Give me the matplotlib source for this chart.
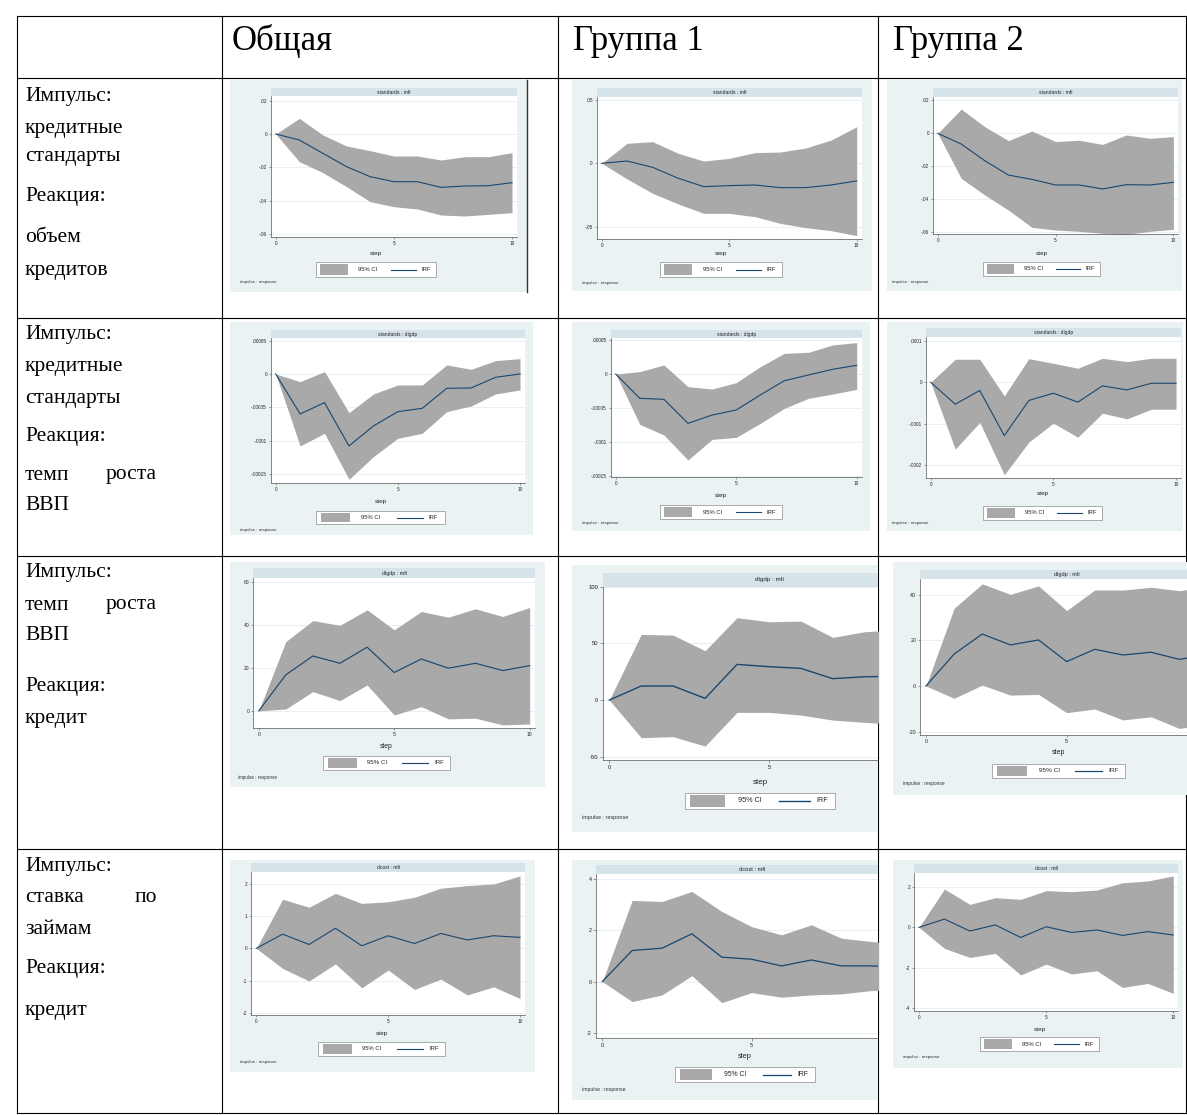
import matplotlib
matplotlib.use("Agg")
import matplotlib.pyplot as plt
from matplotlib.patches import Rectangle
from matplotlib.lines import Line2D

W, H = 1187, 1115
steps = list(range(11))

# ---- table text ----
col_titles = ["Общая", "Группа 1", "Группа 2"]
row_captions = [
    ["Импульс:", "кредитные", "стандарты", "Реакция:", "объем", "кредитов"],
    ["Импульс:", "кредитные", "стандарты", "Реакция:", "темп роста", "ВВП"],
    ["Импульс:", "темп роста", "ВВП", "Реакция:", "кредит"],
    ["Импульс:", "ставка по", "займам", "Реакция:", "кредит"],
]
panel_titles = ["standards : mfi", "standards : dlgdp", "dlgdp : mfi", "dcost : mfi"]

# ---- impulse responses (steps 0..10): IRF, lower and upper 95% bounds ----
# credit standards -> loans
irf_std_mfi_all = [0, -0.0036, -0.0116, -0.0196, -0.0256, -0.0286, -0.0286, -0.0320, -0.0312, -0.0310, -0.0292]
lo_std_mfi_all = [0, -0.0166, -0.0232, -0.0316, -0.0406, -0.0436, -0.0450, -0.0486, -0.0492, -0.0482, -0.0472]
hi_std_mfi_all = [0, 0.0094, -0.0006, -0.0072, -0.0100, -0.0132, -0.0132, -0.0156, -0.0136, -0.0136, -0.0112]

irf_std_mfi_g1 = [0, 0.0018, -0.0032, -0.0118, -0.0184, -0.0176, -0.0171, -0.0192, -0.0192, -0.0171, -0.0139]
lo_std_mfi_g1 = [0, -0.0124, -0.0237, -0.0321, -0.0395, -0.0395, -0.0421, -0.0474, -0.0508, -0.0532, -0.0571]
hi_std_mfi_g1 = [0, 0.0158, 0.0171, 0.0079, 0.0018, 0.0039, 0.0084, 0.0089, 0.0121, 0.0184, 0.0289]

irf_std_mfi_g2 = [0, -0.0065, -0.0166, -0.0253, -0.0279, -0.0313, -0.0313, -0.0337, -0.0311, -0.0313, -0.0297]
lo_std_mfi_g2 = [0, -0.0273, -0.0374, -0.0465, -0.0570, -0.0586, -0.0594, -0.0606, -0.0612, -0.0594, -0.0582]
hi_std_mfi_g2 = [0, 0.0147, 0.0040, -0.0044, 0.0014, -0.0050, -0.0042, -0.0067, -0.0010, -0.0030, -0.0020]

# credit standards -> GDP growth
irf_std_gdp_all = [0, -6.0e-5, -4.3e-5, -10.8e-5, -7.8e-5, -5.65e-5, -5.15e-5, -2.15e-5, -2.1e-5, -0.5e-5, 0.0]
lo_std_gdp_all = [0, -10.8e-5, -8.9e-5, -15.8e-5, -12.4e-5, -9.65e-5, -8.9e-5, -5.65e-5, -4.8e-5, -3.0e-5, -2.4e-5]
hi_std_gdp_all = [0, -1.15e-5, 0.35e-5, -5.8e-5, -3.0e-5, -1.65e-5, -1.65e-5, 1.35e-5, 0.7e-5, 2.0e-5, 2.3e-5]

irf_std_gdp_g1 = [0, -3.60e-5, -3.74e-5, -7.29e-5, -6.06e-5, -5.32e-5, -3.10e-5, -0.99e-5, -0.15e-5, 0.69e-5, 1.28e-5]
lo_std_gdp_g1 = [0, -7.44e-5, -9.01e-5, -12.71e-5, -9.66e-5, -9.36e-5, -7.29e-5, -5.07e-5, -3.60e-5, -2.96e-5, -2.27e-5]
hi_std_gdp_g1 = [0, 0.34e-5, 1.33e-5, -1.87e-5, -2.22e-5, -1.28e-5, 1.08e-5, 3.05e-5, 3.20e-5, 4.29e-5, 4.63e-5]

irf_std_gdp_g2 = [0, -5.3e-5, -2.0e-5, -12.9e-5, -4.4e-5, -2.65e-5, -4.8e-5, -0.88e-5, -1.85e-5, -0.24e-5, -0.24e-5]
lo_std_gdp_g2 = [0, -16.16e-5, -9.7e-5, -22.35e-5, -14.47e-5, -9.89e-5, -13.27e-5, -7.48e-5, -8.84e-5, -6.51e-5, -6.51e-5]
hi_std_gdp_g2 = [0, 5.55e-5, 5.55e-5, -3.3e-5, 5.7e-5, 4.58e-5, 3.38e-5, 5.79e-5, 4.98e-5, 5.79e-5, 5.79e-5]

# GDP growth -> credit
irf_gdp_mfi_all = [0, 16.8, 25.6, 22.2, 29.7, 17.9, 24.2, 19.9, 22.2, 18.8, 21.1]
lo_gdp_mfi_all = [0, 0.9, 9.0, 4.8, 12.1, -1.9, 2.0, -3.7, -3.4, -6.5, -6.1]
hi_gdp_mfi_all = [0, 32.3, 42.1, 39.9, 47.1, 37.8, 46.3, 43.7, 47.6, 44.0, 48.2]

irf_gdp_mfi_g1 = [0, 12.4, 12.4, 1.5, 31.5, 29.5, 28.0, 18.9, 20.6, 21.0, 21.5]
lo_gdp_mfi_g1 = [0, -33.3, -32.4, -40.7, -10.9, -10.9, -13.3, -17.7, -19.7, -21.5, -23.0]
hi_gdp_mfi_g1 = [0, 58.0, 57.4, 43.6, 72.8, 69.2, 69.8, 55.4, 60.4, 62.0, 63.0]

irf_gdp_mfi_g2 = [0, 14.0, 22.8, 18.0, 20.2, 10.7, 16.1, 13.6, 14.8, 11.7, 13.5]
lo_gdp_mfi_g2 = [0, -5.4, 0.4, -4.0, -3.7, -11.7, -10.1, -14.9, -13.5, -18.6, -17.0]
hi_gdp_mfi_g2 = [0, 34.1, 44.8, 40.2, 43.9, 33.1, 42.1, 42.1, 43.3, 41.8, 43.5]

# lending rate -> credit
irf_cost_mfi_all = [0, 0.44, 0.12, 0.62, 0.08, 0.39, 0.15, 0.46, 0.26, 0.39, 0.34]
lo_cost_mfi_all = [0, -0.62, -1.01, -0.48, -1.22, -0.67, -1.27, -0.95, -1.44, -1.19, -1.55]
hi_cost_mfi_all = [0, 1.52, 1.27, 1.70, 1.39, 1.44, 1.58, 1.86, 1.94, 1.99, 2.24]

irf_cost_mfi_g1 = [0, 1.21, 1.30, 1.86, 0.95, 0.87, 0.61, 0.84, 0.61, 0.61, 0.56]
lo_cost_mfi_g1 = [0, -0.78, -0.52, 0.23, -0.82, -0.43, -0.61, -0.52, -0.48, -0.35, -0.33]
hi_cost_mfi_g1 = [0, 3.16, 3.12, 3.51, 2.73, 2.14, 1.82, 2.21, 1.69, 1.56, 1.45]

irf_cost_mfi_g2 = [0, 0.41, -0.18, 0.12, -0.50, 0.03, -0.25, -0.13, -0.40, -0.21, -0.38]
lo_cost_mfi_g2 = [0, -1.04, -1.49, -1.29, -2.36, -1.82, -2.31, -2.15, -2.98, -2.78, -3.27]
hi_cost_mfi_g2 = [0, 1.90, 1.14, 1.47, 1.39, 1.82, 1.77, 1.85, 2.21, 2.30, 2.55]

# y tick values and their labels
yt_std_mfi = [0.02, 0, -0.02, -0.04, -0.06]
yl_std_mfi = [".02", "0", "-.02", "-.04", "-.06"]
yt_std_mfi_g1 = [0.05, 0, -0.05]
yl_std_mfi_g1 = [".05", "0", "-.05"]
yt_std_gdp = [5e-5, 0, -5e-5, -1e-4, -1.5e-4]
yl_std_gdp = [".00005", "0", "-.00005", "-.0001", "-.00015"]
yt_std_gdp_g2 = [1e-4, 0, -1e-4, -2e-4]
yl_std_gdp_g2 = [".0001", "0", "-.0001", "-.0002"]
yt_gdp_all = [60, 40, 20, 0]
yt_gdp_g1 = [100, 50, 0, -50]
yt_gdp_g2 = [40, 20, 0, -20]
yt_cost_all = [2, 1, 0, -1, -2]
yt_cost_g1 = [4, 2, 0, -2]
yt_cost_g2 = [2, 0, -2, -4]
xt = [0, 5, 10]
xl = ["0", "5", "10"]

# ---- colours ----
BG = "#EAF2F3"
STRIP = "#D6E4EA"
CI = "#A9A9A9"
NAVY = "#1A476F"
SANS = "Liberation Sans"
SERIF = "Liberation Serif"

fig = plt.figure(figsize=(W / 100, H / 100), dpi=100)
fig.patch.set_facecolor("white")
base = fig.add_axes([0, 0, 1, 1])
base.set_xlim(0, W)
base.set_ylim(H, 0)
base.axis("off")

# ---- table grid ----
v_lines = [17, 222, 558, 878, 1186]
h_lines = [16, 78, 318, 556, 849, 1113]
for x in v_lines:
    base.add_line(Line2D([x, x], [h_lines[0], h_lines[-1]], color="black", lw=0.8, zorder=1))
for y in h_lines:
    base.add_line(Line2D([v_lines[0], v_lines[-1]], [y, y], color="black", lw=0.8, zorder=1))

for title, x in zip(col_titles, [232, 573, 893]):
    base.text(x, 41, title, family=SERIF, fontsize=25, ha="left", va="center", zorder=4)

caption_y = [
    [97, 128, 157, 197, 238, 270],
    [335, 367, 398, 437, 475, 506],
    [573, 605, 636, 686, 718],
    [867, 898, 929, 969, 1011],
]
for lines, ys in zip(row_captions, caption_y):
    for line, y in zip(lines, ys):
        words = line.split(" ")
        if len(words) == 2:
            base.text(25, y, words[0], family=SERIF, fontsize=15.5, ha="left", va="center", zorder=4)
            base.text(157, y, words[1], family=SERIF, fontsize=15.5, ha="right", va="center", zorder=4)
        else:
            base.text(25, y, line, family=SERIF, fontsize=15.5, ha="left", va="center", zorder=4)


def irf_panel(title, irf, lo, hi, yticks, ylabels, bg, x0, pps, top, bottom, ylim,
              strip, legend, step_y, note, s=1.0, clip=None):
    bx0, by0, bx1, by1 = bg
    base.add_patch(Rectangle((bx0, by0), bx1 - bx0, by1 - by0, fc=BG, ec="none", zorder=2))
    left = x0 - 0.2 * pps
    full_right = x0 + 10.2 * pps
    right = min(full_right, clip) if clip else full_right
    # title strip
    base.add_patch(Rectangle((left, top - strip), right - left, strip, fc=STRIP, ec="none", zorder=3))
    base.text((left + full_right) / 2, top - strip / 2, title, family=SANS, fontsize=3.6 * s,
              ha="center", va="center", color="#222222", zorder=4)
    # plot region
    ax = fig.add_axes([left / W, 1 - bottom / H, (right - left) / W, (bottom - top) / H])
    ax.set_zorder(1)
    ax.set_facecolor("white")
    ax.fill_between(steps, lo, hi, color=CI, lw=0, zorder=2)
    ax.plot(steps, irf, color=NAVY, lw=0.8 * s, zorder=3)
    ax.set_xticks(xt)
    ax.set_xticklabels(xl)
    ax.set_yticks(yticks)
    ax.set_yticklabels(ylabels)
    ax.set_xlim(-0.2, (right - x0) / pps)
    ax.set_ylim(*ylim)
    ax.yaxis.grid(True, color="#E4EEF1", lw=0.6, zorder=0)
    ax.set_axisbelow(True)
    for side in ["top", "right"]:
        ax.spines[side].set_visible(False)
    for side in ["left", "bottom"]:
        ax.spines[side].set_color("#555555")
        ax.spines[side].set_linewidth(0.5)
    ax.tick_params(direction="out", length=1.6 * s, width=0.4, color="#555555",
                   labelsize=3.4 * s, pad=1.2 * s, labelcolor="#222222")
    for lab in ax.get_xticklabels() + ax.get_yticklabels():
        lab.set_family(SANS)
    # axis title and legend, centred on the graph region
    lx0, ly0, lx1, ly1 = legend
    cx = (lx0 + lx1) / 2
    base.text(cx, step_y, "step", family=SANS, fontsize=4.6 * s, ha="center", va="center",
              color="#222222", zorder=4)
    lw_, lh = lx1 - lx0, ly1 - ly0
    base.add_patch(Rectangle((lx0, ly0), lw_, lh, fc="white", ec="#8C8C8C", lw=0.5, zorder=3))
    base.add_patch(Rectangle((lx0 + 0.036 * lw_, ly0 + 0.15 * lh), 0.23 * lw_, 0.7 * lh,
                             fc=CI, ec="none", zorder=4))
    base.text(lx0 + 0.35 * lw_, ly0 + lh / 2, "95% CI", family=SANS, fontsize=4.2 * s,
              ha="left", va="center", color="#222222", zorder=4)
    base.add_line(Line2D([lx0 + 0.625 * lw_, lx0 + 0.83 * lw_], [ly0 + lh / 2] * 2,
                         color=NAVY, lw=0.8 * s, zorder=4))
    base.text(lx0 + 0.875 * lw_, ly0 + lh / 2, "IRF", family=SANS, fontsize=4.2 * s,
              ha="left", va="center", color="#222222", zorder=4)
    base.text(note[0], note[1], "impulse : response", family=SANS, fontsize=3.2 * s,
              ha="left", va="center", color="#333333", zorder=4)


# row 1: credit standards -> loans
irf_panel(panel_titles[0], irf_std_mfi_all, lo_std_mfi_all, hi_std_mfi_all, yt_std_mfi, yl_std_mfi,
          (230, 80, 527, 292), 275.7, 23.63, 96, 236.7, (-0.0616, 0.0228), 8,
          (316, 262, 436, 277), 253, (240, 282))
base.add_line(Line2D([527, 527], [80, 292], color="#333333", lw=1.0, zorder=3))
irf_panel(panel_titles[0], irf_std_mfi_g1, lo_std_mfi_g1, hi_std_mfi_g1, yt_std_mfi_g1, yl_std_mfi_g1,
          (572, 80, 872, 291), 601.7, 25.5, 96.7, 239.3, (-0.060, 0.0526), 8.5,
          (660, 262, 782, 277), 254, (582, 283))
irf_panel(panel_titles[0], irf_std_mfi_g2, lo_std_mfi_g2, hi_std_mfi_g2, yt_std_mfi, yl_std_mfi,
          (887, 80, 1182, 291), 937.7, 23.57, 96.7, 234, (-0.061, 0.0222), 8.5,
          (983, 262, 1100, 276), 253, (892, 282))

# row 2: credit standards -> GDP growth
irf_panel(panel_titles[1], irf_std_gdp_all, lo_std_gdp_all, hi_std_gdp_all, yt_std_gdp, yl_std_gdp,
          (230, 322, 533, 535), 275.7, 24.43, 338.3, 483.3, (-1.64e-4, 5.35e-5), 8.5,
          (316, 511, 445, 524), 502, (240, 530))
irf_panel(panel_titles[1], irf_std_gdp_g1, lo_std_gdp_g1, hi_std_gdp_g1, yt_std_gdp, yl_std_gdp,
          (572, 322, 870, 531), 615.7, 24.1, 338.3, 476.7, (-1.517e-4, 5.27e-5), 8.5,
          (660, 505, 782, 519), 495, (582, 523))
irf_panel(panel_titles[1], irf_std_gdp_g2, lo_std_gdp_g2, hi_std_gdp_g2, yt_std_gdp_g2, yl_std_gdp_g2,
          (887, 322, 1183, 531), 930.7, 24.53, 336.7, 478.3, (-2.32e-4, 1.1e-4), 8.5,
          (983, 506, 1102, 520), 493, (892, 523))

# row 3: GDP growth -> credit
irf_panel(panel_titles[2], irf_gdp_mfi_all, lo_gdp_mfi_all, hi_gdp_mfi_all, yt_gdp_all,
          [str(v) for v in yt_gdp_all],
          (230, 562, 545, 787), 258.7, 27.1, 578.3, 728.3, (-8.1, 61.8), 10,
          (323, 756, 450, 770), 747, (238, 777), s=1.05)
irf_panel(panel_titles[2], irf_gdp_mfi_g1, lo_gdp_mfi_g1, hi_gdp_mfi_g1, yt_gdp_g1,
          [str(v) for v in yt_gdp_g1],
          (572, 565, 878, 832), 609.3, 31.93, 586.7, 760, (-53.0, 100.2), 14,
          (685, 793, 835, 809), 782, (582, 818), s=1.25, clip=878)
irf_panel(panel_titles[2], irf_gdp_mfi_g2, lo_gdp_mfi_g2, hi_gdp_mfi_g2, yt_gdp_g2,
          [str(v) for v in yt_gdp_g2],
          (893, 562, 1187, 795), 926, 28.13, 579.3, 735, (-21.5, 46.8), 9.5,
          (992, 764, 1125, 778), 753, (903, 784), s=1.1, clip=1187)

# row 4: lending rate -> credit
irf_panel(panel_titles[3], irf_cost_mfi_all, lo_cost_mfi_all, hi_cost_mfi_all, yt_cost_all,
          [str(v) for v in yt_cost_all],
          (230, 860, 535, 1072), 256.3, 26.37, 871.7, 1015, (-2.06, 2.37), 8.5,
          (318, 1042, 445, 1056), 1033, (240, 1062))
irf_panel(panel_titles[3], irf_cost_mfi_g1, lo_cost_mfi_g1, hi_cost_mfi_g1, yt_cost_g1,
          [str(v) for v in yt_cost_g1],
          (572, 860, 878, 1100), 602.3, 29.87, 874, 1038.3, (-2.21, 4.19), 9,
          (675, 1067, 815, 1082), 1057, (582, 1090), s=1.15, clip=878)
irf_panel(panel_titles[3], irf_cost_mfi_g2, lo_cost_mfi_g2, hi_cost_mfi_g2, yt_cost_g2,
          [str(v) for v in yt_cost_g2],
          (893, 860, 1183, 1068), 919, 25.43, 872.7, 1010.7, (-4.13, 2.71), 8.5,
          (980, 1037, 1099, 1051), 1029, (903, 1057))

fig.savefig("out.png", dpi=100, facecolor="white")
